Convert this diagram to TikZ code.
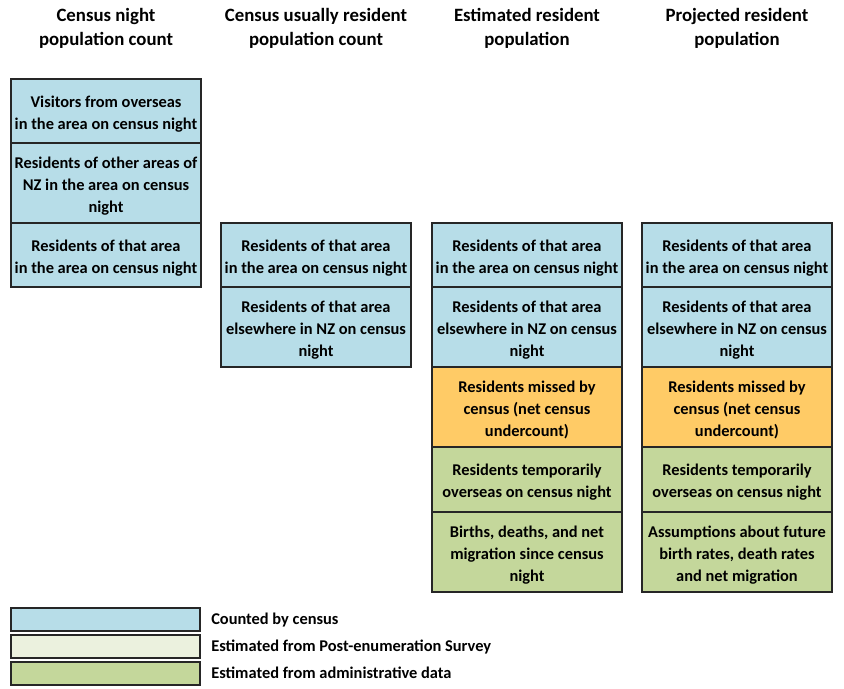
\documentclass[tikz,border=0pt]{standalone}
\usepackage{fontspec}
\setmainfont{Carlito}
\definecolor{cblue}{HTML}{B7DDE8}
\definecolor{corange}{HTML}{FFCB66}
\definecolor{cgreen}{HTML}{C4D79B}
\definecolor{cpale}{HTML}{EBF1DE}
\begin{document}
\begin{tikzpicture}[x=0.75pt,y=-0.75pt,
  cell/.style={draw=black!85,line width=1.3pt,minimum width=142.5pt,inner sep=0pt},
  ctext/.style={inner sep=0pt,align=center,font=\bfseries\fontsize{12.3}{16.5}\selectfont},
  title/.style={align=center,font=\bfseries\fontsize{14.1}{18}\selectfont},
  legbox/.style={draw=black!85,line width=1.3pt,minimum width=141.75pt,minimum height=17.25pt,inner sep=0pt},
  legtext/.style={anchor=base west,inner sep=0pt,font=\bfseries\fontsize{12.3}{14}\selectfont}]
\useasboundingbox (0,0) rectangle (844,689);
\newcommand\celltxt[2]{\node[ctext] (#1t) at ([yshift=-2.2pt]#1.center) {#2};}
% titles
\node[title] (t1) at (106,28) {Census night\\population count};
\node[title] (t2) at (316,28) {Census usually resident\\population count};
\node[title] (t3) at (527,28) {Estimated resident\\population};
\node[title] (t4) at (737,28) {Projected resident\\population};
% column 1
\node[cell,fill=cblue,minimum height=48pt] (a1) at (106,111) {};
\node[cell,fill=cblue,minimum height=60pt] (a2) at (106,183) {};
\node[cell,fill=cblue,minimum height=48pt] (a3) at (106,255) {};
\celltxt{a1}{Visitors from overseas\\in the area on census night}
\celltxt{a2}{Residents of other areas of\\NZ in the area on census\\night}
\celltxt{a3}{Residents of that area\\in the area on census night}
% column 2
\node[cell,fill=cblue,minimum height=48pt] (b1) at (316,255) {};
\node[cell,fill=cblue,minimum height=60pt] (b2) at (316,327) {};
\celltxt{b1}{Residents of that area\\in the area on census night}
\celltxt{b2}{Residents of that area\\elsewhere in NZ on census\\night}
% column 3
\node[cell,fill=cblue,minimum height=48pt] (c1) at (527,255) {};
\node[cell,fill=cblue,minimum height=60pt] (c2) at (527,327) {};
\node[cell,fill=corange,minimum height=60pt] (c3) at (527,407) {};
\node[cell,fill=cgreen,minimum height=48.75pt] (c4) at (527,479.5) {};
\node[cell,fill=cgreen,minimum height=60pt] (c5) at (527,552) {};
\celltxt{c1}{Residents of that area\\in the area on census night}
\celltxt{c2}{Residents of that area\\elsewhere in NZ on census\\night}
\celltxt{c3}{Residents missed by\\census (net census\\undercount)}
\celltxt{c4}{Residents temporarily\\overseas on census night}
\celltxt{c5}{Births, deaths, and net\\migration since census\\night}
% column 4
\node[cell,fill=cblue,minimum height=48pt] (d1) at (737,255) {};
\node[cell,fill=cblue,minimum height=60pt] (d2) at (737,327) {};
\node[cell,fill=corange,minimum height=60pt] (d3) at (737,407) {};
\node[cell,fill=cgreen,minimum height=48.75pt] (d4) at (737,479.5) {};
\node[cell,fill=cgreen,minimum height=60pt] (d5) at (737,552) {};
\celltxt{d1}{Residents of that area\\in the area on census night}
\celltxt{d2}{Residents of that area\\elsewhere in NZ on census\\night}
\celltxt{d3}{Residents missed by\\census (net census\\undercount)}
\celltxt{d4}{Residents temporarily\\overseas on census night}
\celltxt{d5}{Assumptions about future\\birth rates, death rates\\and net migration}
% legend
\node[legbox,fill=cblue] (l1) at (105.5,619.5) {};
\node[legbox,fill=cpale] (l2) at (105.5,646.5) {};
\node[legbox,fill=cgreen] (l3) at (105.5,673.5) {};
\node[legtext] (lt1) at (211,624) {Counted by census};
\node[legtext] (lt2) at (211,651) {Estimated from Post-enumeration Survey};
\node[legtext] (lt3) at (211,678) {Estimated from administrative data};
\end{tikzpicture}
\end{document}
